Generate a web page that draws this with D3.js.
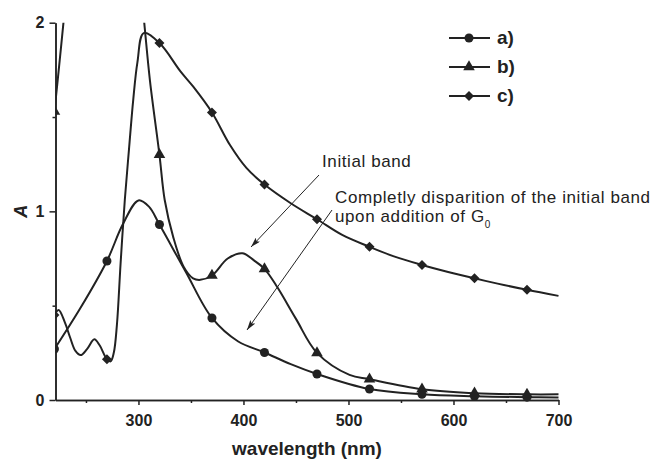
<!DOCTYPE html>
<html lang="en">
<head>
<meta charset="utf-8">
<title>Absorption spectra</title>
<script src="https://cdnjs.cloudflare.com/ajax/libs/d3/7.8.5/d3.min.js"></script>
<style>
  body { margin: 0; background: #fff; }
  svg { display: block; font-family: "Liberation Sans", Arial, sans-serif; }
  .axis path, .axis line { stroke: #222; stroke-width: 1.5; }
  .axis text { font-size: 16px; font-weight: bold; fill: #222; }
  .note { font-size: 17px; letter-spacing: 0.6px; fill: #222; }
</style>
</head>
<body>
<div id="chart"></div>
<script>
// spectra: [wavelength nm, absorbance]
var seriesA = [[220,0.27],[245,0.49],[270,0.737],[285,0.93],[300,1.058],[310,1.025],[320,0.93],
  [345,0.68],[370,0.435],[395,0.31],[420,0.252],[445,0.19],[470,0.138],[520,0.058],
  [570,0.03],[620,0.02],[670,0.015],[700,0.013]];
var seriesB = [[220,1.53],[225,1.80],[230,2.08],[240,2.6],[295,2.6],[302,2.2],[305.5,2.0],
  [311,1.69],[320,1.30],[325,1.06],[333,0.866],[343,0.707],[352,0.645],[359,0.637],
  [370,0.66],[385,0.75],[399,0.778],[410,0.74],[420,0.695],[432,0.60],[450,0.43],
  [470,0.25],[501,0.133],[520,0.11],[570,0.057],[620,0.036],[670,0.03],[700,0.03]];
var seriesC = [[220,0.45],[224,0.477],[230,0.41],[235,0.33],[240,0.26],[245,0.238],[251,0.27],
  [258,0.322],[263,0.29],[270,0.216],[273.5,0.205],[276.5,0.25],[279.5,0.40],[283,0.725],
  [287,1.06],[291,1.33],[295,1.59],[299,1.79],[305,1.945],[320,1.892],[340,1.742],[352,1.662],
  [370,1.524],[387,1.353],[403,1.229],[420,1.142],[445,1.043],[470,0.958],[494,0.875],
  [520,0.812],[544,0.76],[570,0.716],[594,0.68],[620,0.645],[642,0.617],[670,0.584],[700,0.552]];
var markerWl = [220, 270, 320, 370, 420, 470, 520, 570, 620, 670];
var legendLabels = ["a)", "b)", "c)"];
var xMajor = [300, 400, 500, 600, 700];
var xMinor = [250, 350, 450, 550, 650];
var yMajor = [0, 1, 2];
var yMinor = [0.5, 1.5];

var width = 653, height = 459;
var ink = "#222";

var x = d3.scaleLinear().domain([221, 700]).range([55.5, 558.5]);
var y = d3.scaleLinear().domain([0, 2]).range([400, 22.7]);

var svg = d3.select("#chart").append("svg")
  .attr("width", width).attr("height", height);

// axes
svg.append("g").attr("class", "axis")
  .attr("transform", "translate(0," + y(0) + ")")
  .call(d3.axisBottom(x).tickValues(xMinor).tickSize(3).tickSizeOuter(0).tickFormat(""));
svg.append("g").attr("class", "axis")
  .attr("transform", "translate(0," + y(0) + ")")
  .call(d3.axisBottom(x).tickValues(xMajor).tickSize(5).tickSizeOuter(0).tickPadding(10));
svg.append("g").attr("class", "axis")
  .attr("transform", "translate(" + x(221) + ",0)")
  .call(d3.axisLeft(y).tickValues(yMinor).tickSize(3).tickSizeOuter(0).tickFormat(""));
svg.append("g").attr("class", "axis")
  .attr("transform", "translate(" + x(221) + ",0)")
  .call(d3.axisLeft(y).tickValues(yMajor).tickSize(6).tickSizeOuter(0).tickPadding(5)
    .tickFormat(d3.format("d")));

svg.append("text")
  .attr("x", 307).attr("y", 455)
  .attr("text-anchor", "middle")
  .style("font-size", "19px").style("font-weight", "bold").attr("fill", ink)
  .text("wavelength (nm)");
svg.append("text")
  .attr("transform", "translate(27," + y(1) + ") rotate(-90)")
  .attr("text-anchor", "middle")
  .style("font-size", "18px").style("font-weight", "bold").style("font-style", "italic")
  .attr("fill", ink)
  .text("A");

// clip to the plot frame
svg.append("clipPath").attr("id", "plot")
  .append("rect")
  .attr("x", x(221)).attr("y", y(2))
  .attr("width", x(700) - x(221) + 2).attr("height", y(0) - y(2) + 6);

var line = d3.line()
  .x(function(d){ return x(d[0]); })
  .y(function(d){ return y(d[1]); })
  .curve(d3.curveCatmullRom.alpha(0.5));

var symbols = [
  d3.symbol().type(d3.symbolCircle).size(64),
  d3.symbol().type(d3.symbolTriangle).size(58),
  d3.symbol().type(d3.symbolSquare).size(50)
];
var rotations = [0, 0, 45];
var allSeries = [seriesA, seriesB, seriesC];

var plot = svg.append("g").attr("clip-path", "url(#plot)");

allSeries.forEach(function(s, i){
  plot.append("path")
    .datum(s)
    .attr("d", line)
    .attr("fill", "none")
    .attr("stroke", ink)
    .attr("stroke-width", 2);
  plot.selectAll(".m" + i)
    .data(s.filter(function(d){ return markerWl.indexOf(d[0]) >= 0; }))
    .enter().append("path")
    .attr("class", "m" + i)
    .attr("d", symbols[i])
    .attr("transform", function(d){
      return "translate(" + x(d[0]) + "," + y(d[1]) + ") rotate(" + rotations[i] + ")";
    })
    .attr("fill", ink);
});

// legend
var legend = svg.append("g");
legendLabels.forEach(function(lab, i){
  var ly = 38 + i * 29;
  legend.append("line")
    .attr("x1", 449).attr("x2", 490).attr("y1", ly).attr("y2", ly)
    .attr("stroke", ink).attr("stroke-width", 2);
  legend.append("path")
    .attr("d", symbols[i])
    .attr("transform", "translate(469," + ly + ") rotate(" + rotations[i] + ")")
    .attr("fill", ink);
  legend.append("text")
    .attr("x", 497).attr("y", ly + 6)
    .style("font-size", "19px").style("font-weight", "bold").attr("fill", ink)
    .text(lab);
});

// annotations
svg.append("defs").append("marker")
  .attr("id", "arrow")
  .attr("viewBox", "0 0 10 6")
  .attr("refX", 10).attr("refY", 3)
  .attr("markerWidth", 10).attr("markerHeight", 6)
  .attr("markerUnits", "userSpaceOnUse")
  .attr("orient", "auto")
  .append("path")
  .attr("d", "M0,0L10,3L0,6L2,3Z")
  .attr("fill", ink);

svg.append("line")
  .attr("x1", 319).attr("y1", 175).attr("x2", 251).attr("y2", 247)
  .attr("stroke", ink).attr("stroke-width", 1).attr("marker-end", "url(#arrow)");
svg.append("line")
  .attr("x1", 332).attr("y1", 210).attr("x2", 247).attr("y2", 330)
  .attr("stroke", ink).attr("stroke-width", 1).attr("marker-end", "url(#arrow)");

svg.append("text").attr("class", "note")
  .attr("x", 322).attr("y", 166.5)
  .text("Initial band");
svg.append("text").attr("class", "note")
  .attr("x", 335).attr("y", 202.5)
  .text("Completly disparition of the initial band");
var t2 = svg.append("text").attr("class", "note")
  .attr("x", 335).attr("y", 222);
t2.append("tspan").text("upon addition of G");
t2.append("tspan").attr("dy", 6).style("font-size", "10px").text("0");
</script>
</body>
</html>
